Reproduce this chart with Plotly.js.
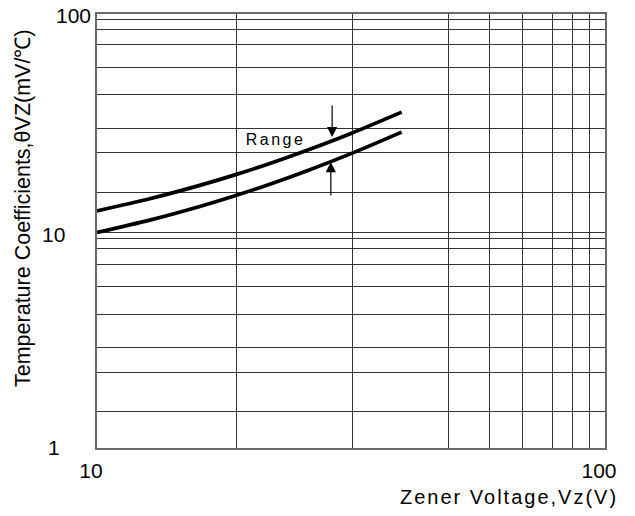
<!DOCTYPE html>
<html><head><meta charset="utf-8">
<script src="https://cdn.plot.ly/plotly-3.0.1.min.js"></script>
<style>html,body{margin:0;padding:0;background:#fff}#chart{width:635px;height:516px}</style>
</head><body><div id="chart"></div>
<script>
// Data
const voltage    = [10, 12.70, 15.93, 18.82, 21.89, 26.24, 31.8, 39.78];
const coeffUpper = [12.38, 14.08, 16.23, 18.24, 20.48, 23.82, 28.31, 35.3];
const coeffLower = [9.84, 11.22, 12.97, 14.61, 16.43, 19.16, 22.84, 28.55];

const xTickVals = [10, 100];
const xTickText = ['10', '100'];
const yTickVals = [1, 10, 100];
const yTickText = ['1', '10', '100'];

const xGridVals = [18.82, 31.8, 49.14, 59.18, 68.86, 78.9, 86.4, 93.1];
const yGridVals = [1.48, 2.24, 2.90, 4.14, 5.53, 7.04, 8.31, 9.24, 9.80, 15.1, 22.96, 29.7, 42.4, 56.6, 72.2, 84.4, 94.1];

const rangeLabel = {text: 'Range', x: 22.49, y: 26.35};
const arrowTop = {x: 29.03, y: 27.08};
const arrowBottom = {x: 28.86, y: 20.78};

const xTitle = 'Zener Voltage,Vz(V)';
const yTitle = 'Temperature Coefficients,θVZ(mV/℃)';

// styling / layout
const FONT = 'Liberation Sans, Arial, sans-serif';
const yLabelXShift = [-43.5, -43.5, -23.5];
const yLabelYShift = [1, -3, -1];

const lineStyle = {color: '#000', width: 3.7, shape: 'spline', smoothing: 0.8};
const traces = [
  {x: voltage, y: coeffUpper, type: 'scatter', mode: 'lines', line: lineStyle, hoverinfo: 'skip'},
  {x: voltage, y: coeffLower, type: 'scatter', mode: 'lines', line: lineStyle, hoverinfo: 'skip'}
];

const annotations = [];
yTickVals.forEach((v, i) => annotations.push({
  xref: 'paper', x: 0, yref: 'y', y: Math.log10(v), text: yTickText[i],
  showarrow: false, xanchor: 'center', yanchor: 'middle',
  xshift: yLabelXShift[i], yshift: yLabelYShift[i],
  font: {family: FONT, size: 21, color: '#000'}
}));
annotations.push({
  xref: 'x', yref: 'y', x: Math.log10(rangeLabel.x), y: Math.log10(rangeLabel.y),
  text: rangeLabel.text, showarrow: false, xanchor: 'center', yanchor: 'middle',
  font: {family: FONT, size: 16, color: '#000'}
});
annotations.push({
  xref: 'x', yref: 'y', x: Math.log10(arrowTop.x), y: Math.log10(arrowTop.y), text: '',
  showarrow: true, arrowhead: 2, arrowsize: 1.7, arrowwidth: 1.2, arrowcolor: '#000',
  ax: 0, ay: -33, standoff: 0
});
annotations.push({
  xref: 'x', yref: 'y', x: Math.log10(arrowBottom.x), y: Math.log10(arrowBottom.y), text: '',
  showarrow: true, arrowhead: 2, arrowsize: 1.7, arrowwidth: 1.2, arrowcolor: '#000',
  ax: 0, ay: 35, standoff: 0
});
annotations.push({
  xref: 'paper', yref: 'paper', x: 0.812, y: -0.113, text: xTitle, showarrow: false,
  xanchor: 'center', yanchor: 'middle', font: {family: FONT, size: 20, color: '#000'}
});
annotations.push({
  xref: 'paper', yref: 'paper', x: 0, xshift: -74, y: 0.553, text: yTitle, showarrow: false,
  textangle: -90, xanchor: 'center', yanchor: 'middle', font: {family: FONT, size: 21.5, color: '#000'}
});

const layout = {
  width: 635, height: 516,
  margin: {l: 97, r: 30, t: 14, b: 68, pad: 0},
  paper_bgcolor: '#fff', plot_bgcolor: '#fff',
  showlegend: false,
  font: {family: FONT, size: 21, color: '#000'},
  xaxis: {
    type: 'log', range: [1, 2], tickmode: 'array', tickvals: xTickVals, ticktext: xTickText,
    ticks: '', showgrid: false, zeroline: false,
    showline: true, mirror: true, linecolor: '#6a6a6a', linewidth: 2,
    ticklabelshift: -6, ticklabelstandoff: 3,
    tickfont: {family: FONT, size: 21, color: '#000'},
    minor: {tickmode: 'array', tickvals: xGridVals, showgrid: true, gridcolor: '#333', gridwidth: 1, ticks: ''}
  },
  yaxis: {
    type: 'log', range: [0, 2], tickmode: 'array', tickvals: yTickVals, ticktext: yTickText,
    ticks: '', showticklabels: false, showgrid: false, zeroline: false,
    showline: true, mirror: true, linecolor: '#6a6a6a', linewidth: 2,
    minor: {tickmode: 'array', tickvals: yGridVals, showgrid: true, gridcolor: '#333', gridwidth: 1, ticks: ''}
  },
  annotations: annotations
};

Plotly.newPlot('chart', traces, layout, {staticPlot: true, displayModeBar: false}).then(() => {
  const texts = document.querySelectorAll('.annotation-text');
  texts.forEach(t => {
    const s = t.textContent;
    if (s === rangeLabel.text) t.style.letterSpacing = '2.5px';
    if (s === xTitle) t.style.letterSpacing = '2px';
  });
});
</script>
</body></html>
